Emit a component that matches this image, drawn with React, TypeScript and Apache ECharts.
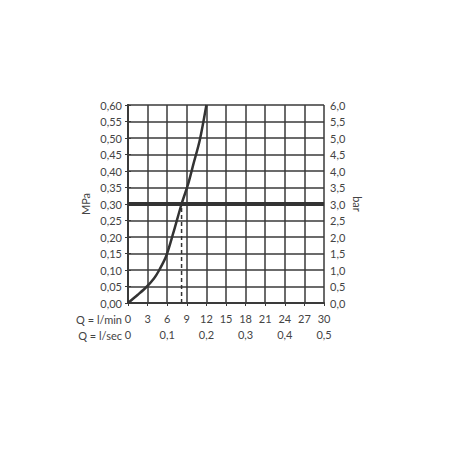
import React, { useEffect, useRef } from "react";
import * as echarts from "echarts";

const flowLpm: number[] = [0, 1.5, 2.9, 4.0, 4.7, 5.8, 6.9, 8.2, 9.2, 10.0, 11.0, 12.0];
const pressureMPa: number[] = [0, 0.025, 0.05, 0.075, 0.097, 0.14, 0.21, 0.30, 0.36, 0.42, 0.495, 0.6];
const referencePressure = 0.3;
const operatingFlow = 8.2;
const xTicksLpm: number[] = [0, 3, 6, 9, 12, 15, 18, 21, 24, 27, 30];

const FONT = "Lato";
const TXT = "#444";
const LINE = "#3a3a3a";

export default function App() {
  const ref = useRef<HTMLDivElement>(null);
  useEffect(() => {
    if (!ref.current) return;
    const chart = echarts.init(ref.current, null, { renderer: "svg" });
    const curve = flowLpm.map((x, i) => [x, pressureMPa[i]]);
    chart.setOption({
      animation: false,
      backgroundColor: "#fff",
      grid: { left: 128, top: 105, width: 196, height: 198, containLabel: false },
      xAxis: [
        {
          type: "value",
          min: 0,
          max: 30,
          interval: 3,
          axisLine: { show: true, lineStyle: { color: LINE, width: 2 } },
          axisTick: { show: true, length: 3, lineStyle: { color: LINE } },
          splitLine: { show: true, lineStyle: { color: LINE, width: 1.5 } },
          axisLabel: { color: TXT, fontFamily: FONT, fontSize: 11, margin: 10 },
        },
        {
          type: "value",
          position: "bottom",
          offset: 16,
          min: 0,
          max: 30,
          interval: 6,
          axisLine: { show: false },
          axisTick: { show: false },
          splitLine: { show: false },
          axisLabel: {
            color: TXT,
            fontFamily: FONT,
            fontSize: 11,
            margin: 10,
            formatter: (v: number) => (v === 0 ? "0" : (v / 60).toFixed(1).replace(".", ",")),
          },
        },
      ],
      yAxis: [
        {
          type: "value",
          min: 0,
          max: 0.6,
          interval: 0.05,
          name: "MPa",
          nameLocation: "middle",
          nameGap: 37,
          nameRotate: 90,
          nameTextStyle: { color: TXT, fontFamily: FONT, fontSize: 11 },
          axisLine: { show: true, lineStyle: { color: LINE, width: 2 } },
          axisTick: { show: true, length: 3, lineStyle: { color: LINE } },
          splitLine: { show: true, lineStyle: { color: LINE, width: 1.5 } },
          axisLabel: {
            color: TXT,
            fontFamily: FONT,
            fontSize: 11,
            margin: 6,
            formatter: (v: number) => v.toFixed(2).replace(".", ","),
          },
        },
        {
          type: "value",
          min: 0,
          max: 6,
          interval: 0.5,
          position: "right",
          name: "bar",
          nameLocation: "middle",
          nameGap: 28,
          nameRotate: -90,
          nameTextStyle: { color: TXT, fontFamily: FONT, fontSize: 11 },
          axisLine: { show: true, lineStyle: { color: LINE, width: 2 } },
          axisTick: { show: true, length: 3, lineStyle: { color: LINE } },
          splitLine: { show: false },
          axisLabel: {
            color: TXT,
            fontFamily: FONT,
            fontSize: 11,
            margin: 6,
            formatter: (v: number) => v.toFixed(1).replace(".", ","),
          },
        },
      ],
      graphic: [
        {
          type: "text",
          right: 450 - 122,
          top: 314,
          style: { text: "Q = l/min", fill: TXT, font: `11px ${FONT}` },
        },
        {
          type: "text",
          right: 450 - 122,
          top: 330,
          style: { text: "Q = l/sec", fill: TXT, font: `11px ${FONT}` },
        },
      ],
      series: [
        {
          type: "line",
          data: [
            [0, referencePressure],
            [30, referencePressure],
          ],
          symbol: "none",
          lineStyle: { color: "#333", width: 4 },
          z: 3,
        },
        {
          type: "line",
          data: [
            [operatingFlow, 0],
            [operatingFlow, referencePressure],
          ],
          symbol: "none",
          lineStyle: { color: "#333", width: 1.5, type: [4, 3] },
          z: 4,
        },
        {
          type: "line",
          data: curve,
          symbol: "none",
          smooth: 0.3,
          lineStyle: { color: "#333", width: 2.5 },
          z: 5,
        },
      ],
    });
    return () => chart.dispose();
  }, []);
  return (
    <div
      ref={ref}
      style={{ position: "fixed", left: 0, top: 0, width: 450, height: 450, background: "#fff" }}
    />
  );
}
